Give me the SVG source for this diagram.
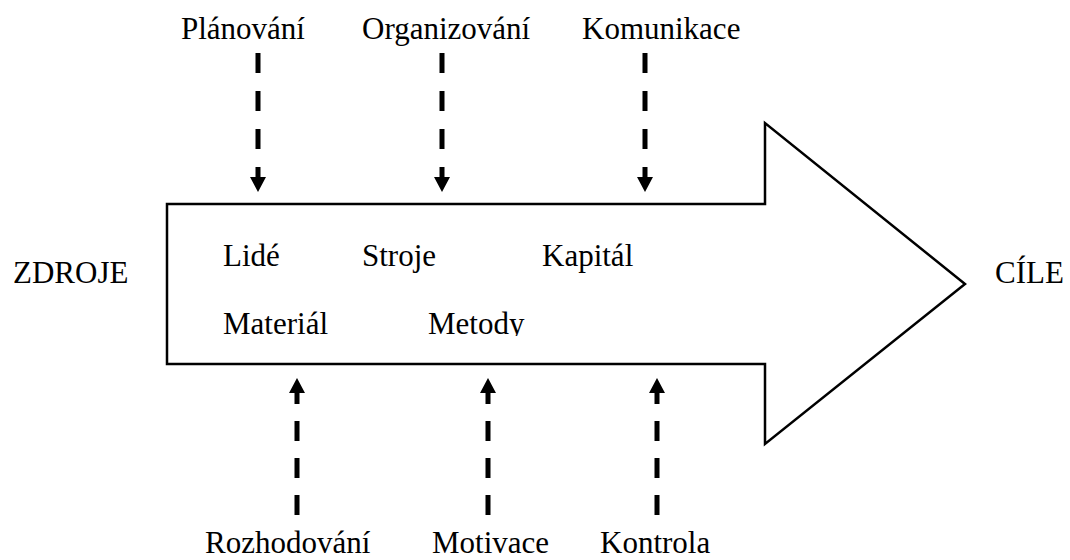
<svg xmlns="http://www.w3.org/2000/svg" width="1070" height="560" viewBox="0 0 1070 560">
<style>
text{font-family:"Liberation Serif","Times New Roman",serif;font-size:31px;fill:#000}
.big{fill:#fff;stroke:#000;stroke-width:2.5;stroke-linejoin:miter}
.dl{stroke:#000;stroke-width:5;fill:none;stroke-linecap:butt}
.dt{stroke-dasharray:20 18}
.db{stroke-dasharray:20 17}
</style>
<defs>
<marker id="ah" markerUnits="userSpaceOnUse" markerWidth="16" markerHeight="16" viewBox="0 0 16 16" refX="0" refY="8" orient="auto">
<path d="M0,0 L15,8 L0,16 z" fill="#000"/>
</marker>
<clipPath id="rowclip"><rect x="160" y="290" width="500" height="46"/></clipPath>
</defs>
<rect width="1070" height="560" fill="#fff"/>
<g id="arrow-body">
<polygon class="big" points="167,204 765,204 765,123 965,284 765,444 765,364 167,364"/>
<text x="223" y="266">Lidé</text>
<text x="362" y="266">Stroje</text>
<text x="542" y="266">Kapitál</text>
<g clip-path="url(#rowclip)">
<text x="223" y="334">Materiál</text>
<text x="428" y="334">Metody</text>
</g>
</g>
<g id="zdroje"><text x="13" y="283">ZDROJE</text></g>
<g id="cile"><text x="995" y="283">CÍLE</text></g>
<g id="planovani"><text x="181" y="39">Plánování</text></g>
<g id="organizovani"><text x="362" y="39">Organizování</text></g>
<g id="komunikace"><text x="582" y="39">Komunikace</text></g>
<g id="rozhodovani"><text x="205" y="553">Rozhodování</text></g>
<g id="motivace"><text x="432" y="553">Motivace</text></g>
<g id="kontrola"><text x="600" y="553">Kontrola</text></g>
<g id="connectors">
<line class="dl dt" x1="258" y1="53" x2="258" y2="177" marker-end="url(#ah)"/>
<line class="dl dt" x1="442" y1="53" x2="442" y2="177" marker-end="url(#ah)"/>
<line class="dl dt" x1="645" y1="53" x2="645" y2="177" marker-end="url(#ah)"/>
<line class="dl db" x1="297" y1="515" x2="297" y2="393" marker-end="url(#ah)"/>
<line class="dl db" x1="488" y1="515" x2="488" y2="393" marker-end="url(#ah)"/>
<line class="dl db" x1="657" y1="515" x2="657" y2="393" marker-end="url(#ah)"/>
</g>
</svg>
